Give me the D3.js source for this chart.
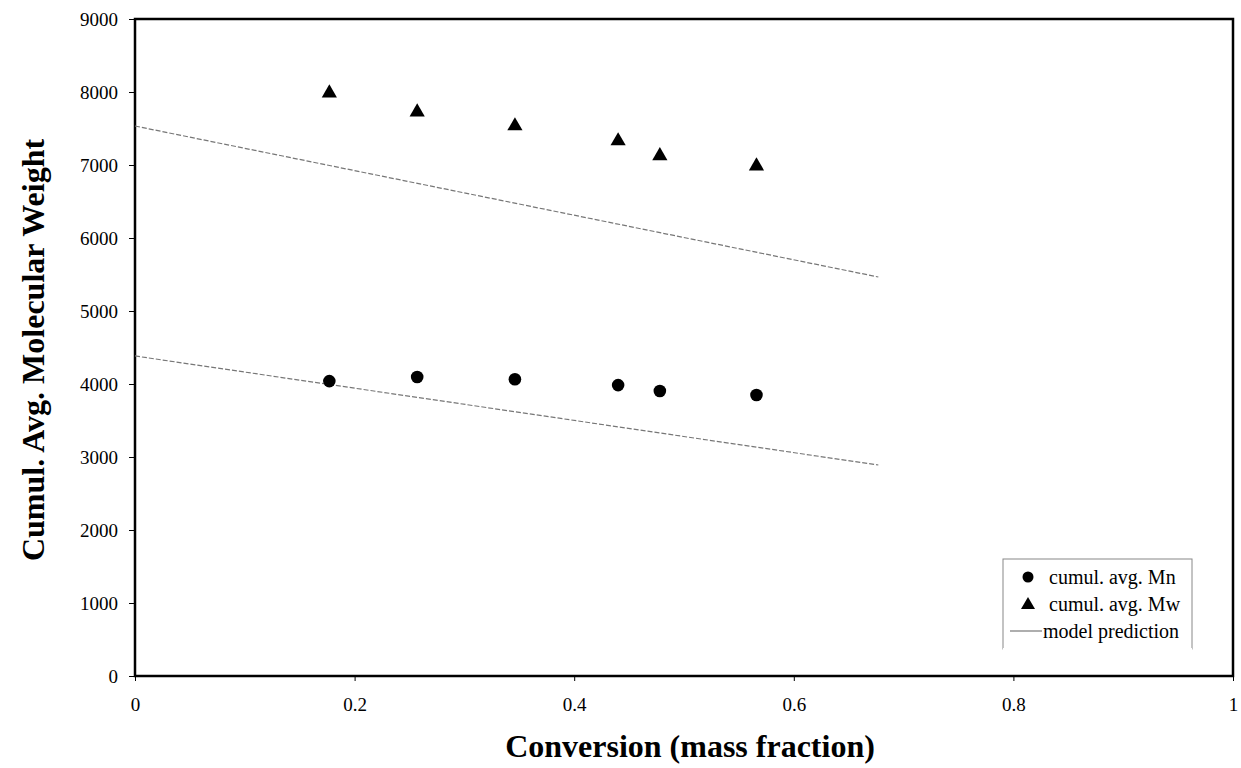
<!DOCTYPE html>
<html>
<head>
<meta charset="utf-8">
<script src="https://cdn.jsdelivr.net/npm/d3@7"></script>
<style>
  body { margin: 0; background: #fff; }
  svg text { font-family: "Liberation Serif", "Times New Roman", serif; fill: #000; }
</style>
</head>
<body>
<div id="chart-area"></div>
<script>
// measured points (conversion, cumulative average MW)
var conversion = [0.177, 0.257, 0.346, 0.440, 0.478, 0.566];
var mnValues = [4040, 4095, 4065, 3985, 3905, 3850];
var mwValues = [7985, 7725, 7535, 7330, 7125, 6985];

// model prediction lines
var modelX = [0, 0.677];
var modelMn = [4384, 2890];
var modelMw = [7534, 5466];

var xTicks = [0, 0.2, 0.4, 0.6, 0.8, 1];
var yTicks = [0, 1000, 2000, 3000, 4000, 5000, 6000, 7000, 8000, 9000];

var legendLabels = ["cumul. avg. Mn", "cumul. avg. Mw", "model prediction"];

var width = 1241, height = 768;
var margin = {left: 135, right: 8, top: 19, bottom: 92};

var svg = d3.select("#chart-area").append("svg")
    .attr("width", width)
    .attr("height", height);

var x = d3.scaleLinear().domain([0, 1]).range([margin.left, width - margin.right]);
var y = d3.scaleLinear().domain([0, 9000]).range([height - margin.bottom, margin.top]);

// axes
var xAxis = svg.append("g")
    .attr("transform", "translate(0," + y(0) + ")")
    .call(d3.axisBottom(x).tickValues(xTicks).tickSize(5).tickPadding(17)
        .tickFormat(d => String(+d.toFixed(1))));
var yAxis = svg.append("g")
    .attr("transform", "translate(" + x(0) + ",0)")
    .call(d3.axisLeft(y).tickValues(yTicks).tickSize(6).tickPadding(11)
        .tickFormat(d3.format("d")));

[xAxis, yAxis].forEach(g => {
    g.attr("font-family", "Liberation Serif, serif").attr("font-size", 19);
    g.select(".domain").remove();
    g.selectAll("text").style("font-size", "19px")
        .style("font-family", "'Liberation Serif', serif");
    g.selectAll("line").attr("stroke", "#000");
});

// plot frame
svg.append("rect")
    .attr("x", x(0)).attr("y", y(9000))
    .attr("width", x(1) - x(0)).attr("height", y(0) - y(9000))
    .attr("fill", "none").attr("stroke", "#000").attr("stroke-width", 2.5);

// model lines
var line = d3.line().x(d => x(d[0])).y(d => y(d[1]));
[modelMw, modelMn].forEach(vals => {
    svg.append("path")
        .datum(modelX.map((d, i) => [d, vals[i]]))
        .attr("d", line)
        .attr("fill", "none")
        .attr("stroke", "#777")
        .attr("stroke-width", 1.2)
        .attr("stroke-dasharray", "5,2");
});

// markers
var tri = d3.symbol().type(d3.symbolTriangle).size(100);
svg.selectAll("path.mw")
    .data(conversion)
    .enter()
    .append("path")
        .attr("class", "mw")
        .attr("d", tri)
        .attr("transform", (d, i) => "translate(" + x(d) + "," + y(mwValues[i]) + ")")
        .attr("fill", "#000");

svg.selectAll("circle.mn")
    .data(conversion)
    .enter()
    .append("circle")
        .attr("class", "mn")
        .attr("cx", d => x(d))
        .attr("cy", (d, i) => y(mnValues[i]))
        .attr("r", 6.3)
        .attr("fill", "#000");

// legend
var lg = svg.append("g").attr("transform", "translate(1003,559)");
lg.append("rect")
    .attr("width", 189).attr("height", 90)
    .attr("fill", "#fff").attr("stroke", "#888").attr("stroke-width", 1);
lg.append("line")
    .attr("x1", 0).attr("x2", 189).attr("y1", 90).attr("y2", 90)
    .attr("stroke", "#fff").attr("stroke-width", 2);
lg.append("circle").attr("cx", 25).attr("cy", 18).attr("r", 5.5).attr("fill", "#000");
lg.append("path").attr("d", d3.symbol().type(d3.symbolTriangle).size(85))
    .attr("transform", "translate(25,46)").attr("fill", "#000");
lg.append("line").attr("x1", 7).attr("x2", 39).attr("y1", 72).attr("y2", 72)
    .attr("stroke", "#777").attr("stroke-width", 1.2);
lg.selectAll("text.lab")
    .data(legendLabels)
    .enter()
    .append("text")
        .attr("class", "lab")
        .attr("x", (d, i) => i == 2 ? 40 : 46)
        .attr("y", (d, i) => 25 + i * 27)
        .style("font-size", "20px")
        .text(d => d);

// axis titles
svg.append("text")
    .attr("x", 690).attr("y", 757)
    .attr("text-anchor", "middle")
    .style("font-size", "32px").style("font-weight", "bold")
    .text("Conversion (mass fraction)");
svg.append("text")
    .attr("transform", "translate(44,350) rotate(-90)")
    .attr("text-anchor", "middle")
    .style("font-size", "32px").style("font-weight", "bold")
    .text("Cumul. Avg. Molecular Weight");
</script>
</body>
</html>
